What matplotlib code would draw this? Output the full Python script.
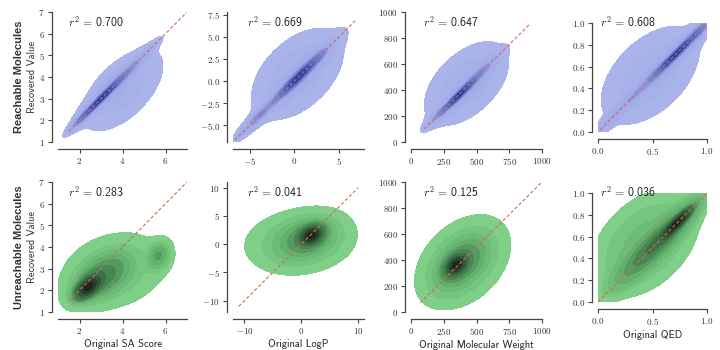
import numpy as np
import matplotlib.pyplot as plt
from matplotlib.colors import LinearSegmentedColormap

plt.rcParams["mathtext.fontset"] = "cm"

# titles / labels
x_labels = ["Original SA Score", "Original LogP", "Original Molecular Weight", "Original QED"]
row_labels = ["Reachable Molecules", "Unreachable Molecules"]
r2_top = [0.700, 0.669, 0.647, 0.608]
r2_bottom = [0.283, 0.041, 0.125, 0.036]

# axis limits (x and y share them) and ticks
lims_top = [(1, 7), (-6.9, 7.8), (0, 1000), (0, 1)]
lims_bottom = [(1, 7), (-12, 11), (0, 1000), (0, 1)]
xticks_top = [[2, 4, 6], [-5, 0, 5], [0, 250, 500, 750, 1000], [0.0, 0.5, 1.0]]
yticks_top = [[1, 2, 3, 4, 5, 6, 7], [-5.0, -2.5, 0.0, 2.5, 5.0, 7.5],
              [0, 200, 400, 600, 800, 1000], [0.0, 0.2, 0.4, 0.6, 0.8, 1.0]]
xticks_bottom = [[2, 4, 6], [-10, 0, 10], [0, 250, 500, 750, 1000], [0.0, 0.5, 1.0]]
yticks_bottom = [[1, 2, 3, 4, 5, 6, 7], [-10, -5, 0, 5, 10],
                 [0, 200, 400, 600, 800, 1000], [0.0, 0.2, 0.4, 0.6, 0.8, 1.0]]
xfmt = ["{:g}", "{:g}", "{:g}", "{:.1f}"]
yfmt_top = ["{:g}", "{:.1f}", "{:g}", "{:.1f}"]
yfmt_bottom = ["{:g}", "{:g}", "{:g}", "{:.1f}"]

# identity line range
diag_top = [(1.5, 7), (-6.7, 6.8), (100, 900), (0.02, 0.98)]
diag_bottom = [(1.5, 7), (-11, 10), (70, 1000), (0.0, 1.0)]

# density components:
# centre x, centre y, spread along, spread across, angle (deg), weight
sa_top = [(3.0, 3.0, 0.7, 0.06, 45, 0.3), (3.4, 3.4, 1.1, 0.18, 45, 0.24),
          (4.3, 4.3, 0.85, 0.1, 45, 0.1), (2.1, 2.1, 0.4, 0.08, 45, 0.06),
          (4.0, 3.4, 1.3, 0.66, 45, 0.3)]
logp_top = [(0.5, 0.5, 1.8, 0.2, 45, 0.3), (0.5, 0.5, 2.8, 0.55, 45, 0.26),
            (-4.0, -4.0, 1.7, 0.3, 45, 0.1), (3.0, 3.0, 0.8, 0.3, 45, 0.02),
            (0.35, 0.8, 3.4, 2.0, 45, 0.32)]
mw_top = [(370, 365, 90, 10, 45, 0.3), (400, 395, 150, 30, 45, 0.24),
          (550, 550, 90, 18, 45, 0.08), (220, 220, 70, 15, 45, 0.06),
          (424, 450, 210, 120, 45, 0.32)]
qed_top = [(0.72, 0.72, 0.16, 0.012, 45, 0.3), (0.65, 0.65, 0.26, 0.04, 45, 0.24),
           (0.25, 0.25, 0.22, 0.025, 45, 0.08), (0.92, 0.92, 0.08, 0.02, 45, 0.06),
           (0.48, 0.52, 0.38, 0.22, 45, 0.32)]
sa_bottom = [(2.4, 2.15, 0.4, 0.2, 40, 0.28), (3.0, 2.6, 0.9, 0.5, 35, 0.32),
             (3.6, 2.9, 1.45, 1.0, 15, 0.34), (5.7, 3.6, 0.4, 0.3, 70, 0.06)]
logp_bottom = [(1.8, 1.6, 1.3, 0.9, 30, 0.3), (1.0, 1.0, 3.2, 2.0, 20, 0.35),
               (-0.3, 0.4, 5.2, 3.0, 6, 0.35)]
mw_bottom = [(345, 360, 55, 35, 45, 0.28), (380, 375, 150, 90, 45, 0.35),
             (400, 385, 220, 155, 45, 0.37)]
qed_bottom = [(0.72, 0.72, 0.1, 0.02, 45, 0.2), (0.55, 0.55, 0.3, 0.06, 45, 0.3),
              (0.43, 0.54, 0.42, 0.27, 45, 0.5)]
parts_top = [sa_top, logp_top, mw_top, qed_top]
parts_bottom = [sa_bottom, logp_bottom, mw_bottom, qed_bottom]

blue_cmap = LinearSegmentedColormap.from_list("b", ["#aab4ea", "#a0abe7", "#6475cb", "#2c3f9e"])
green_cmap = LinearSegmentedColormap.from_list("g", ["#80cf88", "#62b06c", "#3c7045", "#1a271c"])


def density(parts, lo, hi):
    g = np.linspace(lo, hi, 500)
    X, Y = np.meshgrid(g, g)
    Z = np.zeros_like(X)
    for mx, my, su, sv, ang, w in parts:
        t = np.deg2rad(ang)
        dx, dy = X - mx, Y - my
        u = dx * np.cos(t) + dy * np.sin(t)
        v = -dx * np.sin(t) + dy * np.cos(t)
        Z += w * np.exp(-0.5 * (u / su) ** 2 - 0.5 * (v / sv) ** 2) / (su * sv)
    return X, Y, Z


def levels_from_mass(Z, props):
    vals = np.sort(Z.ravel())
    cum = np.cumsum(vals)
    cum /= cum[-1]
    lv = list(np.interp(props, cum, vals))
    lv.append(Z.max() * 1.01)
    return lv


fig = plt.figure(figsize=(7.2, 3.5), dpi=100)
W, H = 720, 350

col_left = [58, 233, 411, 598]
col_width = [129, 131, 131, 109]
text_dx = [10, 14, 12, 2]


def add_panel(px_left, px_top, px_w, px_h):
    return fig.add_axes([px_left / W, 1 - (px_top + px_h) / H, px_w / W, px_h / H])


rows = [
    (parts_top, lims_top, xticks_top, yticks_top, diag_top, r2_top, blue_cmap, yfmt_top, 12),
    (parts_bottom, lims_bottom, xticks_bottom, yticks_bottom, diag_bottom, r2_bottom, green_cmap, yfmt_bottom, 182),
]

for r, (parts, lims, xt, yt, diag, r2, cmap, yfmt, top) in enumerate(rows):
    for c in range(4):
        if c == 3:
            ax = add_panel(col_left[c], top + 11, col_width[c], 109)
        else:
            ax = add_panel(col_left[c], top, col_width[c], 130)
        lo, hi = lims[c]
        X, Y, Z = density(parts[c], lo, hi)
        lv = levels_from_mass(Z, np.linspace(0.05, 0.95, 10))
        cols = [cmap(i / (len(lv) - 2)) for i in range(len(lv) - 1)]
        cs = ax.contourf(X, Y, Z, levels=lv, colors=cols)
        cs.set_edgecolor("face")
        cs.set_linewidth(0.4)
        ax.plot(diag[c], diag[c], ls=(0, (3, 2)), color="#d8675a", lw=0.8)
        ax.set_xlim(lo, hi)
        ax.set_ylim(lo, hi)
        ax.set_xticks(xt[c])
        ax.set_yticks(yt[c])
        ax.set_xticklabels(["$" + xfmt[c].format(v) + "$" for v in xt[c]])
        ax.set_yticklabels(["$" + yfmt[c].format(v) + "$" for v in yt[c]])
        ax.tick_params(labelsize=6.5, length=3, width=0.8, color="#444444", labelcolor="#333333", pad=2)
        for s in ["top", "right"]:
            ax.spines[s].set_visible(False)
        ax.spines["left"].set_position(("outward", 4.5))
        ax.spines["bottom"].set_position(("outward", 5))
        for s in ["left", "bottom"]:
            ax.spines[s].set_color("#444444")
            ax.spines[s].set_linewidth(0.9)
        fig.text((col_left[c] + text_dx[c]) / W, 1 - (top + 10) / H,
                 r"$r^2\,=\,$" + "{:.3f}".format(r2[c]),
                 family="cmss10", fontsize=8.5, va="center", ha="left", color="#222222")
        if r == 1:
            ax.set_xlabel(x_labels[c], family="cmss10", fontsize=7.5, labelpad=2, color="#222222")

    fig.text(19 / W, 1 - (top + 65) / H, row_labels[r], rotation=90, fontsize=8,
             fontweight="bold", family="Liberation Sans", ha="center", va="center", color="#333333")
    fig.text(32 / W, 1 - (top + 65) / H, "Recovered Value", rotation=90, fontsize=7.5,
             family="cmss10", ha="center", va="center", color="#333333")

plt.savefig("out.png", dpi=100)
plt.close()
